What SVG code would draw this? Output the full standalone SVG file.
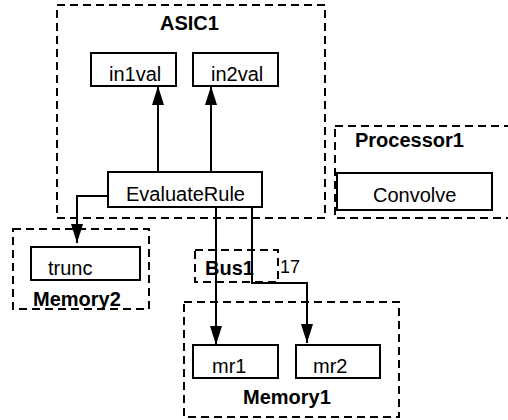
<svg xmlns="http://www.w3.org/2000/svg" width="508" height="420" viewBox="0 0 508 420">
<style>
.grp{fill:none;stroke:#000;stroke-width:2;stroke-dasharray:8 5}
.nd{fill:#fff;stroke:#000;stroke-width:2}
.t{font-family:"Liberation Sans",Arial,sans-serif;font-size:20px;fill:#000}
.b{font-weight:bold}
.c{fill:none;stroke:#000;stroke-width:2}
</style>
<defs>
<marker id="ah" markerUnits="userSpaceOnUse" markerWidth="19" markerHeight="12" refX="19" refY="6" orient="auto" viewBox="0 0 19 12">
<path d="M0,0 L19,6 L0,12 Z" fill="#000"/>
</marker>
</defs>
<rect width="508" height="420" fill="#fff"/>
<g id="ASIC1">
<rect class="grp" x="57" y="5" width="268" height="213"/>
<text class="t b" x="160" y="30">ASIC1</text>
</g>
<g id="Processor1">
<rect class="grp" x="335" y="126" width="180" height="92"/>
<text class="t b" x="355" y="147">Processor1</text>
</g>
<g id="Memory2">
<rect class="grp" x="13" y="229" width="136" height="80"/>
<text class="t b" x="33" y="306">Memory2</text>
</g>
<g id="Bus1">
<rect class="grp" x="195" y="250" width="83" height="32"/>
<text class="t b" x="205" y="275">Bus1</text>
<text class="t" x="280" y="273" style="font-size:18px">17</text>
</g>
<g id="Memory1">
<rect class="grp" x="184" y="302" width="215" height="115"/>
<text class="t b" x="243" y="404">Memory1</text>
</g>
<g id="in1val">
<rect class="nd" x="91" y="53" width="85" height="33"/>
<text class="t" x="109" y="81">in1val</text>
</g>
<g id="in2val">
<rect class="nd" x="193" y="53" width="85" height="33"/>
<text class="t" x="211" y="81">in2val</text>
</g>
<g id="EvaluateRule">
<rect class="nd" x="108" y="172" width="154" height="35"/>
<text class="t" x="126" y="201">EvaluateRule</text>
</g>
<g id="Convolve">
<rect class="nd" x="337" y="173" width="155" height="37"/>
<text class="t" x="373" y="202">Convolve</text>
</g>
<g id="trunc">
<rect class="nd" x="31" y="247" width="109" height="33"/>
<text class="t" x="48" y="275">trunc</text>
</g>
<g id="mr1">
<rect class="nd" x="193" y="345" width="85" height="33"/>
<text class="t" x="212" y="373">mr1</text>
</g>
<g id="mr2">
<rect class="nd" x="296" y="345" width="84" height="33"/>
<text class="t" x="313" y="373">mr2</text>
</g>
<g id="connectors">
<path class="c" d="M158,172 V86" marker-end="url(#ah)"/>
<path class="c" d="M211,172 V86" marker-end="url(#ah)"/>
<path class="c" d="M108,196 H77 V243" marker-end="url(#ah)"/>
<path class="c" d="M216,207 V345" marker-end="url(#ah)"/>
<path class="c" d="M252,207 V283 H307 V343" marker-end="url(#ah)"/>
</g>
</svg>
